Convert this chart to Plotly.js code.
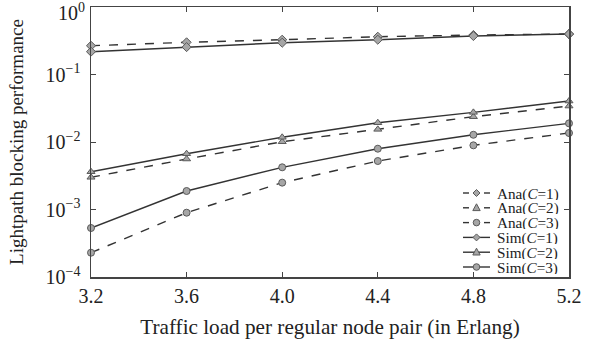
<!DOCTYPE html>
<html>
<head>
<meta charset="utf-8">
<script src="https://cdn.plot.ly/plotly-3.0.1.min.js"></script>
<style>html,body{margin:0;padding:0;background:#fff;}#chart{width:590px;height:345px;}</style>
</head>
<body>
<div id="chart"></div>
<script>
const load = [3.2, 3.6, 4.0, 4.4, 4.8, 5.2];
const loadLabels = ['3.2', '3.6', '4.0', '4.4', '4.8', '5.2'];
const anaC1 = [0.267, 0.300, 0.328, 0.363, 0.385, 0.398];
const anaC2 = [0.0030, 0.0056, 0.0101, 0.0154, 0.0237, 0.0341];
const anaC3 = [0.000229, 0.000897, 0.0025, 0.00523, 0.00893, 0.0136];
const simC1 = [0.218, 0.255, 0.296, 0.328, 0.372, 0.398];
const simC2 = [0.00363, 0.00671, 0.01174, 0.0193, 0.0275, 0.0405];
const simC3 = [0.000532, 0.00188, 0.00422, 0.00796, 0.0128, 0.0189];
const yTickVals = [1e-4, 1e-3, 1e-2, 1e-1, 1];
const yTickText = ['10<sup>−4</sup>', '10<sup>−3</sup>', '10<sup>−2</sup>', '10<sup>−1</sup>', '10<sup>0</sup>'];
const names = ['Ana(<i>C</i>=1)', 'Ana(<i>C</i>=2)', 'Ana(<i>C</i>=3)', 'Sim(<i>C</i>=1)', 'Sim(<i>C</i>=2)', 'Sim(<i>C</i>=3)'];
const dashes = ['dash', 'dash', 'dash', 'solid', 'solid', 'solid'];
const symbols = ['diamond', 'triangle-up', 'circle', 'diamond', 'triangle-up', 'circle'];
const series = [anaC1, anaC2, anaC3, simC1, simC2, simC3];

const W = 590, H = 345;
const M = {l: 91, r: 21, t: 7, b: 68};
const lineColor = '#333333';
const markerFill = '#a6a6a6';
const markerEdge = '#5a5a5a';
const serif = 'Liberation Serif, Times New Roman, serif';

const data = series.map((y, i) => ({
  x: load, y: y, name: names[i], type: 'scatter', mode: 'lines+markers',
  cliponaxis: false, showlegend: false,
  line: {color: lineColor, width: 1.4, dash: dashes[i]},
  marker: {symbol: symbols[i], size: 7, color: markerFill, line: {color: markerEdge, width: 1}}
}));

// Custom compact legend (glyphs + labels), placed in paper coordinates
const pw = W - M.l - M.r, ph = H - M.t - M.b;
const px = v => (v - M.l) / pw;
const py = v => (H - M.b - v) / ph;
const shapes = [], annotations = [];
const legTop = 193, legStep = 14.8, lx0 = 463, lx1 = 490, lmx = 476.5, ltx = 496;
names.forEach((n, i) => {
  const yy = py(legTop + i * legStep);
  if (dashes[i] === 'dash') {
    shapes.push({type: 'line', xref: 'paper', yref: 'paper', x0: px(lx0), x1: px(lx0 + 6), y0: yy, y1: yy, line: {color: lineColor, width: 1.4}});
    shapes.push({type: 'line', xref: 'paper', yref: 'paper', x0: px(lx1 - 6), x1: px(lx1), y0: yy, y1: yy, line: {color: lineColor, width: 1.4}});
  } else {
    shapes.push({type: 'line', xref: 'paper', yref: 'paper', x0: px(lx0), x1: px(lx1), y0: yy, y1: yy, line: {color: lineColor, width: 1.4}});
  }
  const common = {xref: 'paper', yref: 'paper', xsizemode: 'pixel', ysizemode: 'pixel', xanchor: px(lmx), yanchor: yy,
                  fillcolor: markerFill, line: {color: markerEdge, width: 1}, layer: 'above'};
  if (symbols[i] === 'circle') {
    shapes.push(Object.assign({type: 'circle', x0: -3.3, x1: 3.3, y0: -3.3, y1: 3.3}, common));
  } else if (symbols[i] === 'diamond') {
    shapes.push(Object.assign({type: 'path', path: 'M0,3.5 L3.5,0 L0,-3.5 L-3.5,0 Z'}, common));
  } else {
    shapes.push(Object.assign({type: 'path', path: 'M0,4 L3.7,-2.8 L-3.7,-2.8 Z'}, common));
  }
  annotations.push({xref: 'paper', yref: 'paper', x: px(ltx), y: yy, xanchor: 'left', yanchor: 'middle',
                    height: 13, borderpad: 0, valign: 'middle',
                    text: n, showarrow: false, font: {family: serif, size: 15.2, color: '#222'}});
});
// top decade label, nudged down so it stays inside the figure (as in the original)
annotations.push({xref: 'paper', yref: 'paper', x: 0, y: 1, xanchor: 'right', yanchor: 'middle',
                  xshift: -5, yshift: -5, showarrow: false, borderpad: 0,
                  text: yTickText[4], font: {family: serif, size: 20, color: '#222'}});
const yTickTextAxis = yTickText.slice(0, 4).concat(['']);

const layout = {
  width: W, height: H, margin: M,
  paper_bgcolor: '#fff', plot_bgcolor: '#fff',
  font: {family: serif, color: '#222', size: 20},
  showlegend: false,
  shapes: shapes, annotations: annotations,
  xaxis: {
    range: [3.2, 5.2], tickvals: load, ticktext: loadLabels,
    showgrid: false, zeroline: false, showline: true, linecolor: '#444', linewidth: 1.5,
    mirror: 'ticks', ticks: 'inside', ticklen: 5, tickcolor: '#444',
    tickfont: {size: 20}, ticklabeloverflow: 'allow',
    title: {text: 'Traffic load per regular node pair (in Erlang)', font: {size: 21.2}, standoff: 13}
  },
  yaxis: {
    type: 'log', range: [-4, 0.0005], tickvals: yTickVals, ticktext: yTickTextAxis,
    showgrid: false, zeroline: false, showline: true, linecolor: '#444', linewidth: 1.5,
    mirror: 'ticks', ticks: 'inside', ticklen: 5, tickcolor: '#444',
    tickfont: {size: 20}, ticklabeloverflow: 'allow', ticklabelstandoff: 5,
    title: {text: 'Lightpath blocking performance', font: {size: 19}, standoff: 17}
  }
};
Plotly.newPlot('chart', data, layout, {staticPlot: true});
</script>
</body>
</html>
